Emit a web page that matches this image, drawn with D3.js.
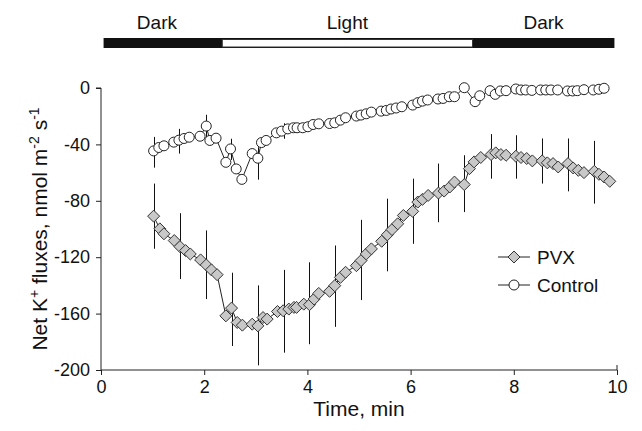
<!doctype html>
<meta charset="utf-8">
<title>Net K+ fluxes</title>
<script src="https://cdn.jsdelivr.net/npm/d3@7"></script>
<style>
    body { margin: 0; background: #fff; }
    svg text { font-family: "Liberation Sans", Arial, Helvetica, sans-serif; fill: #111; }
</style>
<body>
<div id="chart"></div>
<script>

    // light regime bar
    var phaseNames = ["Dark", "Light", "Dark"]
            , phaseStart = [0.05, 2.35, 7.2]
            , phaseEnd = [2.35, 7.2, 9.95];

    // Control (circles)
    var ctrlT = [1.02, 1.12, 1.22, 1.41, 1.51, 1.61, 1.71, 1.92, 2.04, 2.11, 2.23, 2.42, 2.51, 2.62, 2.73,
        2.93, 3.04, 3.11, 3.20, 3.40, 3.50, 3.62, 3.73, 3.80, 3.91, 4.01, 4.11, 4.22, 4.43, 4.53, 4.64,
        4.74, 4.95, 5.04, 5.14, 5.24, 5.43, 5.53, 5.62, 5.72, 5.83, 6.04, 6.14, 6.23, 6.33, 6.53, 6.63,
        6.75, 6.85, 7.04, 7.25, 7.34, 7.54, 7.64, 7.74, 7.85, 8.04, 8.14, 8.23, 8.35, 8.52, 8.62, 8.72,
        8.85, 9.04, 9.14, 9.23, 9.36, 9.54, 9.65, 9.75];
    var ctrlV = [-44.6, -42.2, -41, -38.4, -37, -35.8, -34.9, -34.2, -27, -37.2, -35.6, -52.7, -43.2, -57.4, -64.8,
        -46.5, -49.8, -38.7, -37.2, -31.8, -30.6, -29, -28.2, -28.2, -28.2, -27.5, -25.9, -25.4, -25.2, -24.7, -22.8,
        -21.1, -19.9, -19.2, -18.3, -17.1, -16.4, -15.9, -14.9, -14.2, -13.3, -12.1, -10.4, -9.3, -8.5, -7.8, -7.4,
        -6.2, -6.2, 0.2, -9.7, -5.5, -1.9, -4.5, -2.1, -1.9, -0.7, -1.4, -1.4, -1.7, -1.4, -1.4, -1.4,
        -1.4, -2.1, -2.1, -1.9, -1.2, -1.4, -0.9, -0.2];
    var ctrlErrT = [1.02, 1.51, 2.04, 2.51, 3.04, 3.54]
            , ctrlErrHi = [-34.7, -29, -19, -36, -42, -25]
            , ctrlErrLo = [-56.5, -46.5, -35, -51, -65, -36];

    // PVX (diamonds)
    var pvxT = [1.02, 1.14, 1.22, 1.42, 1.53, 1.64, 1.73, 1.93, 2.04, 2.14, 2.25, 2.42, 2.53, 2.64, 2.74,
        2.93, 3.04, 3.14, 3.22, 3.42, 3.53, 3.64, 3.74, 3.79, 3.93, 4.04, 4.13, 4.22, 4.43, 4.53, 4.64,
        4.74, 4.95, 5.04, 5.14, 5.24, 5.44, 5.55, 5.64, 5.75, 5.86, 6.04, 6.14, 6.23, 6.34, 6.54, 6.65,
        6.76, 6.85, 7.04, 7.14, 7.23, 7.36, 7.56, 7.65, 7.75, 7.85, 8.04, 8.14, 8.25, 8.36, 8.55, 8.65,
        8.76, 8.86, 9.05, 9.15, 9.25, 9.36, 9.56, 9.65, 9.75, 9.86];
    var pvxV = [-90.9, -99.9, -103.4, -108.2, -112.5, -115.3, -117.7, -121.9, -125.5, -129, -132.4, -161.6, -156.1, -166.3, -168.2,
        -167.5, -168.7, -162.8, -163.9, -158.5, -158, -156.8, -155.6, -155.6, -153.3, -153.7, -149.7, -145.7, -144.2, -140.2, -134.3,
        -130.7, -126, -122.4, -117.7, -114.1, -108.7, -104.1, -100.4, -96.3, -90.4, -87.5, -80.9, -79, -76.2, -74.5, -73.1,
        -70.2, -66.7, -68.5, -57.2, -52.4, -49.3, -47.2, -46, -47.2, -47.7, -48.4, -49.3, -50, -51.7, -51.7, -53.1,
        -53.6, -56, -53.6, -56.7, -58.4, -60, -59.1, -61.2, -63.1, -66.2];
    var pvxErrT = [1.02, 1.53, 2.04, 2.53, 3.04, 3.54, 4.04, 4.53, 5.04, 5.55, 6.04, 6.54, 7.04, 7.56, 8.04, 8.55, 9.05, 9.56]
            , pvxErrHi = [-67.8, -88.8, -101, -131, -140, -129, -123.6, -111.7, -93.5, -78.5, -64.3, -53.6, -47.7, -32.7, -33.5, -35.8, -35.8, -37.5]
            , pvxErrLo = [-114, -135.5, -149.7, -183, -196.7, -187.7, -181.7, -169.4, -150.4, -130, -110.5, -95.2, -88, -64.3, -64.3, -67.8, -73.3, -82];

    var xTicks = [0, 2, 4, 6, 8, 10]
            , yTicks = [0, -40, -80, -120, -160, -200];

    var width = 642, height = 431;

    var svg = d3.select('#chart').append('svg')
            .attr('width', width)
            .attr('height', height);

    var x = d3.scaleLinear().domain([0, 10]).range([101, 617]);
    var y = d3.scaleLinear().domain([-200, 0]).range([370, 88]);

    // top light/dark bar
    var phases = phaseNames.map(function(n, i) { return { name: n, t0: phaseStart[i], t1: phaseEnd[i] }; });

    svg.append('rect')
            .attr('x', x(phaseStart[0]))
            .attr('y', 38)
            .attr('width', x(phaseEnd[2]) - x(phaseStart[0]))
            .attr('height', 10)
            .attr('fill', '#111');

    svg.selectAll('rect.light')
            .data(phases.filter(function(d) { return d.name === 'Light'; }))
            .enter().append('rect')
            .classed('light', true)
            .attr('x', function(d) { return x(d.t0); })
            .attr('y', 39.5)
            .attr('width', function(d) { return x(d.t1) - x(d.t0); })
            .attr('height', 7.5)
            .attr('fill', '#fff')
            .attr('stroke', '#333')
            .attr('stroke-width', 1);

    svg.selectAll('text.phase')
            .data(phases)
            .enter().append('text')
            .classed('phase', true)
            .attr('x', function(d, i) { return x((d.t0 + d.t1) / 2) - (i === 0 ? 6 : 0); })
            .attr('y', 29)
            .attr('text-anchor', 'middle')
            .style('font-size', '19px')
            .text(function(d) { return d.name; });

    // axes
    var xAxis = d3.axisBottom(x).tickValues(xTicks).tickSize(5).tickPadding(5).tickFormat(d3.format('d'));
    var yAxis = d3.axisLeft(y).tickValues(yTicks).tickSize(5).tickPadding(6).tickFormat(function(d) { return d === 0 ? '0' : '-' + Math.abs(d); });

    var gx = svg.append('g').attr('transform', 'translate(0,' + y(-200) + ')').call(xAxis);
    var gy = svg.append('g').attr('transform', 'translate(' + x(0) + ',0)').call(yAxis);
    [gx, gy].forEach(function(g) {
        g.select('.domain').attr('stroke', '#222');
        g.selectAll('.tick line').attr('stroke', '#222');
        g.selectAll('.tick text').style('font-size', '18px').attr('fill', '#111');
    });
    gx.select('.domain').attr('d', 'M' + x(0) + ',0H' + x(10) + 'V-5');
    gy.select('.domain').attr('d', 'M-5,' + y(0) + 'H0V' + y(-200));

    svg.append('text')
            .attr('x', x(5))
            .attr('y', 416)
            .attr('text-anchor', 'middle')
            .style('font-size', '21px')
            .text('Time, min');

    var ylab = svg.append('text')
            .attr('transform', 'translate(47,' + y(-100) + ') rotate(-90)')
            .attr('text-anchor', 'middle')
            .style('font-size', '21px');
    ylab.append('tspan').text('Net K');
    ylab.append('tspan').attr('dy', -8).style('font-size', '14px').text('+');
    ylab.append('tspan').attr('dy', 8).text(' fluxes, nmol m');
    ylab.append('tspan').attr('dy', -8).style('font-size', '14px').text('-2');
    ylab.append('tspan').attr('dy', 8).text(' s');
    ylab.append('tspan').attr('dy', -8).style('font-size', '14px').text('-1');

    // error bars
    function errBars(ts, hi, lo) {
        svg.append('g').selectAll('line')
                .data(ts)
                .enter().append('line')
                .attr('x1', function(d) { return Math.round(x(d)) + 0.5; })
                .attr('x2', function(d) { return Math.round(x(d)) + 0.5; })
                .attr('y1', function(d, i) { return y(hi[i]); })
                .attr('y2', function(d, i) { return y(lo[i]); })
                .attr('stroke', '#111')
                .attr('stroke-width', 1);
    }
    errBars(pvxErrT, pvxErrHi, pvxErrLo);
    errBars(ctrlErrT, ctrlErrHi, ctrlErrLo);

    var line = d3.line()
            .x(function(d) { return x(d[0]); })
            .y(function(d) { return y(d[1]); });

    var pvx = pvxT.map(function(t, i) { return [t, pvxV[i]]; });
    var ctrl = ctrlT.map(function(t, i) { return [t, ctrlV[i]]; });

    svg.append('path').datum(pvx).attr('d', line).attr('fill', 'none').attr('stroke', '#222').attr('stroke-width', 1);
    svg.append('path').datum(ctrl).attr('d', line).attr('fill', 'none').attr('stroke', '#222').attr('stroke-width', 1);

    var diamond = 'M0,-6L6,0L0,6L-6,0Z';

    svg.append('g').selectAll('path')
            .data(pvx)
            .enter().append('path')
            .attr('d', diamond)
            .attr('transform', function(d) { return 'translate(' + x(d[0]) + ',' + y(d[1]) + ')'; })
            .attr('fill', '#c8c8c8')
            .attr('stroke', '#333')
            .attr('stroke-width', 1);

    svg.append('g').selectAll('circle')
            .data(ctrl)
            .enter().append('circle')
            .attr('cx', function(d) { return x(d[0]); })
            .attr('cy', function(d) { return y(d[1]); })
            .attr('r', 5)
            .attr('fill', '#fff')
            .attr('stroke', '#222')
            .attr('stroke-width', 1);

    // legend
    var legend = svg.append('g').attr('transform', 'translate(498,257)');
    legend.append('line').attr('x1', 0).attr('x2', 32).attr('y1', 0).attr('y2', 0).attr('stroke', '#222');
    legend.append('path').attr('d', diamond).attr('transform', 'translate(16,0)').attr('fill', '#c8c8c8').attr('stroke', '#333');
    legend.append('text').attr('x', 39).attr('y', 6.5).style('font-size', '19px').text('PVX');
    legend.append('line').attr('x1', 0).attr('x2', 32).attr('y1', 28).attr('y2', 28).attr('stroke', '#222');
    legend.append('circle').attr('cx', 16).attr('cy', 28).attr('r', 5).attr('fill', '#fff').attr('stroke', '#222');
    legend.append('text').attr('x', 39).attr('y', 34.5).style('font-size', '19px').text('Control');

</script>
</body>
